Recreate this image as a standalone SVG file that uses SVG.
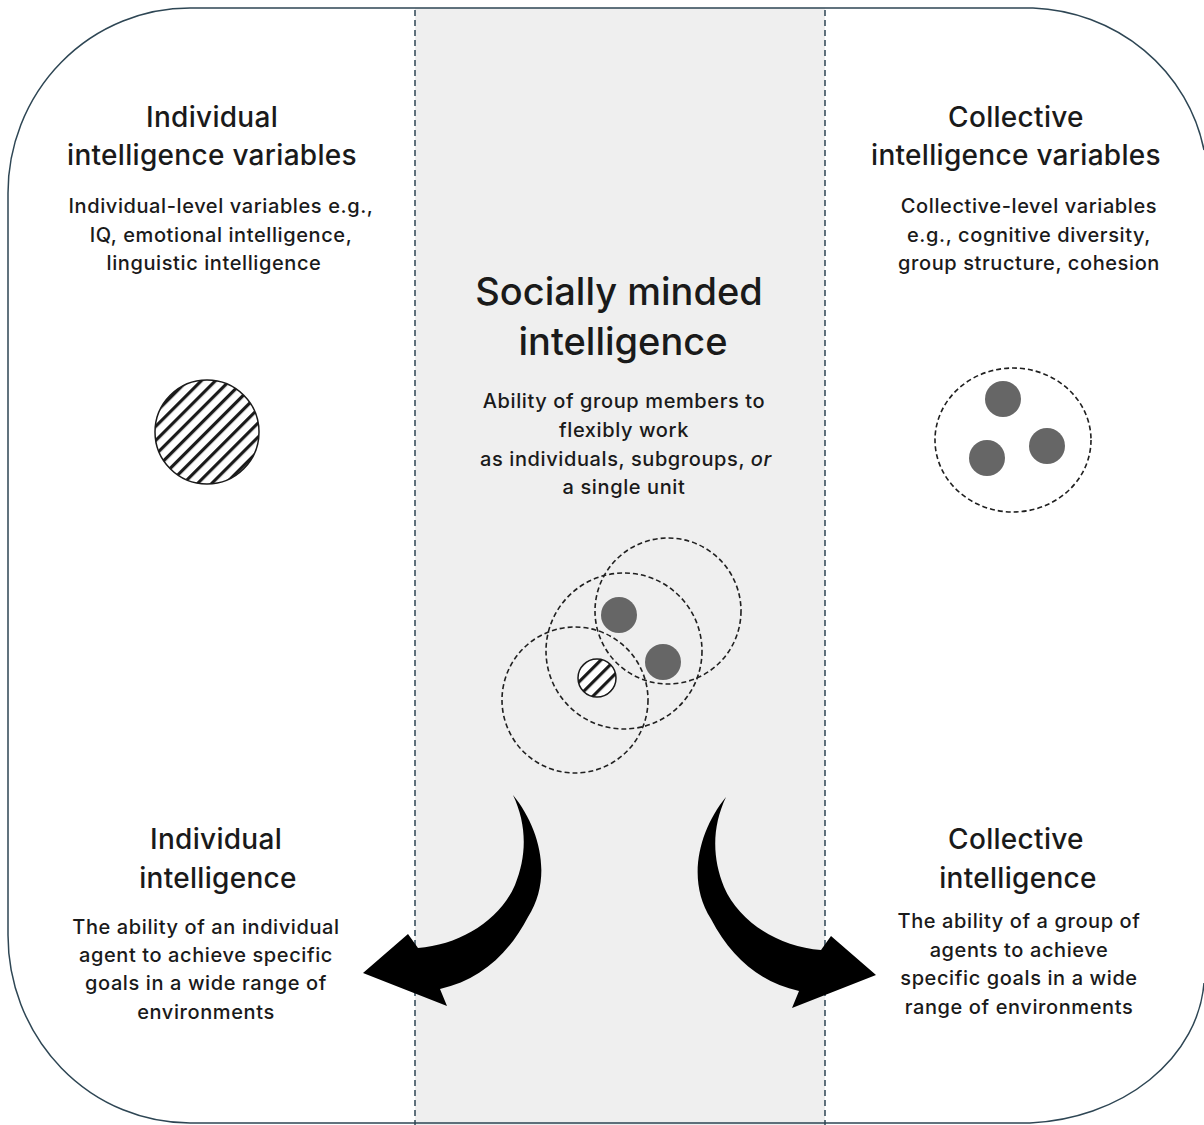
<svg xmlns="http://www.w3.org/2000/svg" width="1204" height="1125" viewBox="0 0 1204 1125">
<defs>
<style>
.t{font-family:Inter,"Open Sans","Liberation Sans",sans-serif;fill:#1a1a1a;text-anchor:middle;font-weight:500}
.h{font-size:28px;letter-spacing:0.3px}
.s{font-size:20px;letter-spacing:0.6px}
.big{font-size:38px}
.dash{fill:none;stroke:#1f1f1f;stroke-width:1.6;stroke-dasharray:5 3}
.dot{fill:#666666}
.sep{stroke:#2e4654;stroke-width:1.5;stroke-dasharray:6 4}
</style>
<pattern id="hatch" patternUnits="userSpaceOnUse" width="10" height="10" patternTransform="rotate(-45)">
<rect width="10" height="10" fill="#ffffff"/>
<rect x="0" y="0" width="10" height="3.2" fill="#1a1a1a"/>
</pattern>
</defs>
<rect width="1204" height="1125" fill="#ffffff"/>
<rect x="415" y="8" width="410" height="1117" fill="#efefef"/>
<path d="M 1033 8 L 190 8 A 182 185 0 0 0 8 193 L 8 935 A 182 188 0 0 0 190 1123 L 1030 1123 A 185 150 0 0 0 1204 983 M 1033 8 A 182 175 0 0 1 1204 150" fill="none" stroke="#2e4654" stroke-width="1.5"/>
<g id="separators">
<line class="sep" x1="415" y1="10" x2="415" y2="1125"/>
<line class="sep" x1="825" y1="10" x2="825" y2="1125"/>
</g>
<g id="individual-variables">
<text class="t h" x="212" y="127">Individual</text>
<text class="t h" x="212" y="165">intelligence variables</text>
<text class="t s" x="221" y="213">Individual-level variables e.g.,</text>
<text class="t s" x="221" y="242">IQ, emotional intelligence,</text>
<text class="t s" x="214" y="270">linguistic intelligence</text>
<circle cx="207" cy="432" r="52" fill="url(#hatch)" stroke="#1a1a1a" stroke-width="1.5"/>
</g>
<g id="collective-variables">
<text class="t h" x="1016" y="127">Collective</text>
<text class="t h" x="1016" y="165">intelligence variables</text>
<text class="t s" x="1029" y="213">Collective-level variables</text>
<text class="t s" x="1029" y="242">e.g., cognitive diversity,</text>
<text class="t s" x="1029" y="270">group structure, cohesion</text>
<ellipse class="dash" cx="1013" cy="440" rx="78" ry="72"/>
<circle class="dot" cx="1003" cy="399" r="18"/>
<circle class="dot" cx="1047" cy="446" r="18"/>
<circle class="dot" cx="987" cy="458" r="18"/>
</g>
<g id="socially-minded">
<text class="t big" x="619" y="305">Socially minded</text>
<text class="t big" x="623" y="355">intelligence</text>
<text class="t s" x="624" y="408">Ability of group members to</text>
<text class="t s" x="624" y="437">flexibly work</text>
<text class="t s" x="626" y="466">as individuals, subgroups, <tspan font-style="italic">or</tspan></text>
<text class="t s" x="624" y="494">a single unit</text>
<circle class="dash" cx="668" cy="611" r="73"/>
<circle class="dash" cx="624" cy="651" r="78"/>
<circle class="dash" cx="575" cy="700" r="73"/>
<circle class="dot" cx="619" cy="615" r="18"/>
<circle class="dot" cx="663" cy="662" r="18"/>
<circle cx="597" cy="678" r="19" fill="url(#hatch)" stroke="#1a1a1a" stroke-width="1.5"/>
</g>
<g id="individual-intelligence">
<text class="t h" x="216" y="849">Individual</text>
<text class="t h" x="218" y="888">intelligence</text>
<text class="t s" x="206" y="934">The ability of an individual</text>
<text class="t s" x="206" y="962">agent to achieve specific</text>
<text class="t s" x="206" y="990">goals in a wide range of</text>
<text class="t s" x="206" y="1019">environments</text>
</g>
<g id="collective-intelligence">
<text class="t h" x="1016" y="849">Collective</text>
<text class="t h" x="1018" y="888">intelligence</text>
<text class="t s" x="1019" y="928">The ability of a group of</text>
<text class="t s" x="1019" y="957">agents to achieve</text>
<text class="t s" x="1019" y="985">specific goals in a wide</text>
<text class="t s" x="1019" y="1014">range of environments</text>
</g>
<g id="connectors">
<path id="arrow-left" d="M 513 795 C 540 828 553 878 528 917 C 508 955 480 980 440 989 L 447 1006 L 363 973 L 408 934 L 418 948 C 460 945 500 920 515 885 C 527 855 527 825 513 795 Z" fill="#000"/>
<path id="arrow-right" d="M 513 795 C 540 828 553 878 528 917 C 508 955 480 980 440 989 L 447 1006 L 363 973 L 408 934 L 418 948 C 460 945 500 920 515 885 C 527 855 527 825 513 795 Z" fill="#000" transform="translate(1239 2) scale(-1 1)"/>
</g>
</svg>
